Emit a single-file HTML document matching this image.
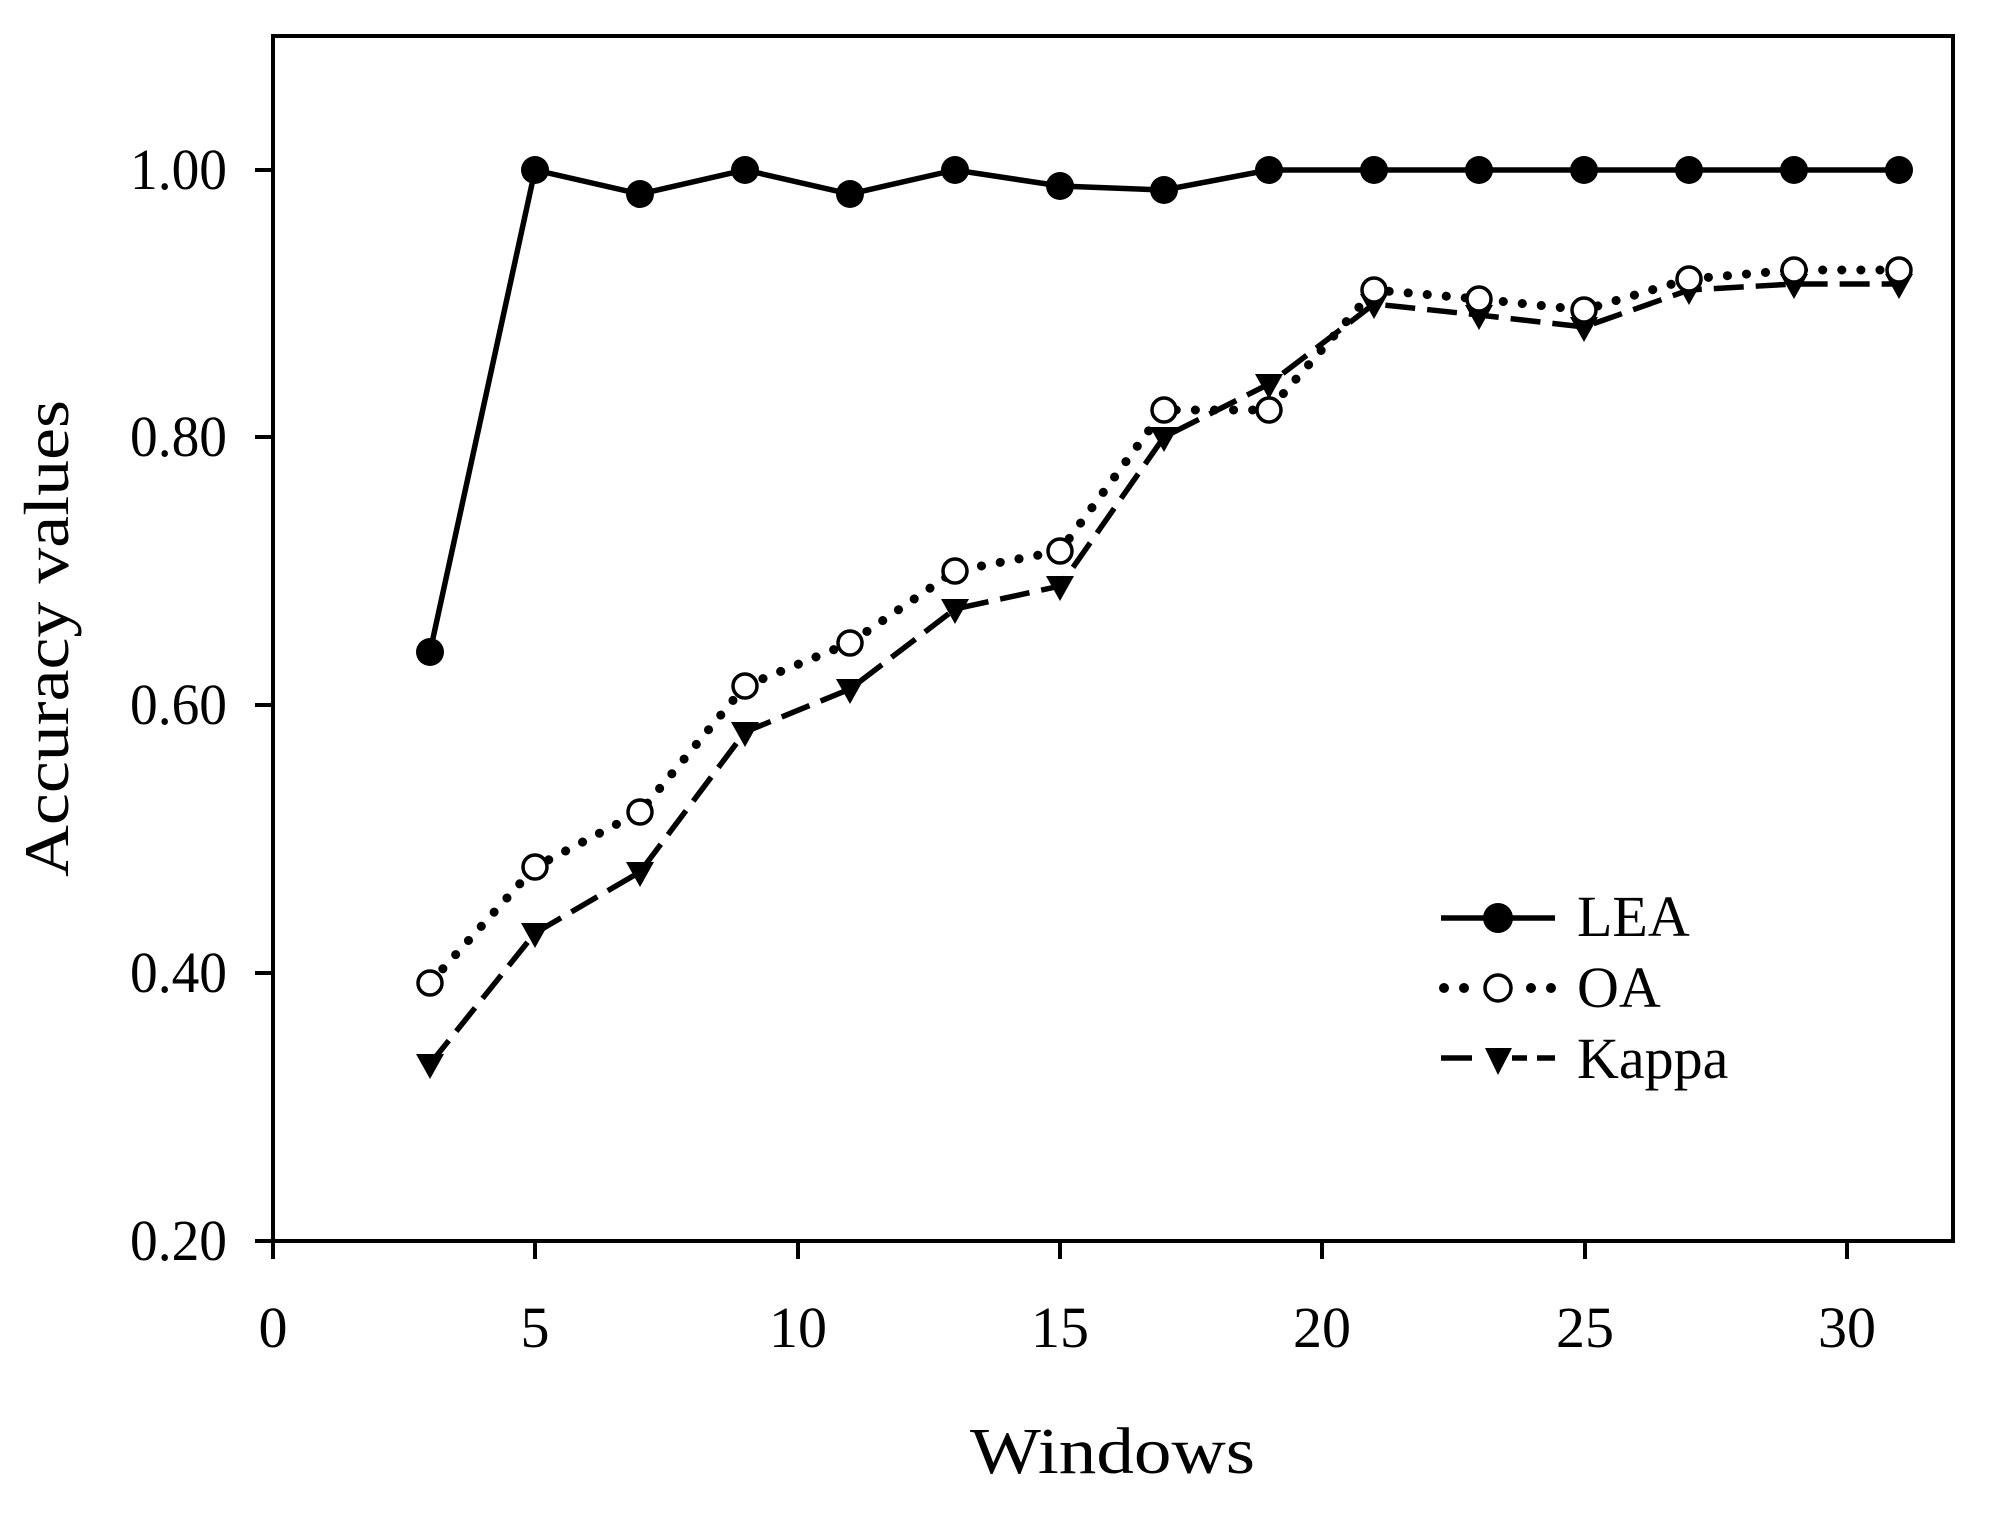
<!DOCTYPE html>
<html><head><style>html,body{margin:0;padding:0;background:#fff}</style></head>
<body>
<svg width="1998" height="1510" viewBox="0 0 1998 1510" xmlns="http://www.w3.org/2000/svg" font-family="'Liberation Serif', serif">
<rect width="1998" height="1510" fill="#fff"/>
<g stroke="#000" stroke-width="4" fill="none">
<path d="M273,36 H1953 V1241 H273 Z"/>
<path d="M255,1241 H273 M255,973 H273 M255,705 H273 M255,437 H273 M255,170 H273"/>
<path d="M273,1241 V1259 M535,1241 V1259 M798,1241 V1259 M1060,1241 V1259 M1322,1241 V1259 M1585,1241 V1259 M1847,1241 V1259"/>
</g>
<g font-size="58" text-anchor="end" fill="#000">
<text x="227" y="189" textLength="97" lengthAdjust="spacingAndGlyphs">1.00</text>
<text x="227" y="456" textLength="97" lengthAdjust="spacingAndGlyphs">0.80</text>
<text x="227" y="724" textLength="97" lengthAdjust="spacingAndGlyphs">0.60</text>
<text x="227" y="992" textLength="97" lengthAdjust="spacingAndGlyphs">0.40</text>
<text x="227" y="1260" textLength="97" lengthAdjust="spacingAndGlyphs">0.20</text>
</g>
<g font-size="58" text-anchor="middle" fill="#000">
<text x="273" y="1347">0</text><text x="535" y="1347">5</text><text x="798" y="1347">10</text>
<text x="1060" y="1347">15</text><text x="1322" y="1347">20</text><text x="1585" y="1347">25</text><text x="1847" y="1347">30</text>
</g>
<text x="970" y="1473" font-size="66" textLength="285" lengthAdjust="spacingAndGlyphs">Windows</text>
<text transform="translate(68,877) rotate(-90)" font-size="64" textLength="477" lengthAdjust="spacingAndGlyphs">Accuracy values</text>

<!-- LEA -->
<polyline fill="none" stroke="#000" stroke-width="5.5" points="430,652 535,170 640,194 745,170 850,194 955,170 1060,186 1164,190 1269,170 1374,170 1479,170 1584,170 1689,170 1794,170 1899,170"/>
<g fill="#000">
<circle cx="430" cy="652" r="14"/><circle cx="535" cy="170" r="14"/><circle cx="640" cy="194" r="14"/><circle cx="745" cy="170" r="14"/><circle cx="850" cy="194" r="14"/><circle cx="955" cy="170" r="14"/><circle cx="1060" cy="186" r="14"/><circle cx="1164" cy="190" r="14"/><circle cx="1269" cy="170" r="14"/><circle cx="1374" cy="170" r="14"/><circle cx="1479" cy="170" r="14"/><circle cx="1584" cy="170" r="14"/><circle cx="1689" cy="170" r="14"/><circle cx="1794" cy="170" r="14"/><circle cx="1899" cy="170" r="14"/>
</g>

<!-- Kappa -->
<polyline fill="none" stroke="#000" stroke-width="5.5" stroke-dasharray="30,12" points="430,1064 535,933 640,872 745,732 850,689 955,609 1060,586 1164,437 1269,384 1374,304 1479,315 1584,327 1689,290 1794,284 1899,284"/>
<g fill="#000">
<path d="M-14,-10 H14 L0,15 Z" transform="translate(430,1064)"/>
<path d="M-14,-10 H14 L0,15 Z" transform="translate(535,933)"/>
<path d="M-14,-10 H14 L0,15 Z" transform="translate(640,872)"/>
<path d="M-14,-10 H14 L0,15 Z" transform="translate(745,732)"/>
<path d="M-14,-10 H14 L0,15 Z" transform="translate(850,689)"/>
<path d="M-14,-10 H14 L0,15 Z" transform="translate(955,609)"/>
<path d="M-14,-10 H14 L0,15 Z" transform="translate(1060,586)"/>
<path d="M-14,-10 H14 L0,15 Z" transform="translate(1164,437)"/>
<path d="M-14,-10 H14 L0,15 Z" transform="translate(1269,384)"/>
<path d="M-14,-10 H14 L0,15 Z" transform="translate(1374,304)"/>
<path d="M-14,-10 H14 L0,15 Z" transform="translate(1479,315)"/>
<path d="M-14,-10 H14 L0,15 Z" transform="translate(1584,327)"/>
<path d="M-14,-10 H14 L0,15 Z" transform="translate(1689,290)"/>
<path d="M-14,-10 H14 L0,15 Z" transform="translate(1794,284)"/>
<path d="M-14,-10 H14 L0,15 Z" transform="translate(1899,284)"/>
</g>

<!-- OA -->
<polyline fill="none" stroke="#000" stroke-width="9" stroke-linecap="round" stroke-dasharray="0.1,19" points="430,983 535,867 640,812 745,686 850,643 955,571 1060,551 1164,410 1269,410 1374,290 1479,299 1584,310 1689,279 1794,270 1899,270"/>
<g fill="#fff" stroke="#000" stroke-width="3.5">
<circle cx="430" cy="983" r="12"/><circle cx="535" cy="867" r="12"/><circle cx="640" cy="812" r="12"/><circle cx="745" cy="686" r="12"/><circle cx="850" cy="643" r="12"/><circle cx="955" cy="571" r="12"/><circle cx="1060" cy="551" r="12"/><circle cx="1164" cy="410" r="12"/><circle cx="1269" cy="410" r="12"/><circle cx="1374" cy="290" r="12"/><circle cx="1479" cy="299" r="12"/><circle cx="1584" cy="310" r="12"/><circle cx="1689" cy="279" r="12"/><circle cx="1794" cy="270" r="12"/><circle cx="1899" cy="270" r="12"/>
</g>

<!-- Legend -->
<line x1="1441" y1="918" x2="1555" y2="918" stroke="#000" stroke-width="5.5"/>
<circle cx="1498" cy="918" r="15" fill="#000"/>
<g fill="#000"><circle cx="1444" cy="988" r="5"/><circle cx="1464" cy="988" r="5"/><circle cx="1531" cy="988" r="5"/><circle cx="1551" cy="988" r="5"/></g>
<circle cx="1498" cy="988" r="13" fill="#fff" stroke="#000" stroke-width="3.5"/>
<path d="M1441,1058 H1472 M1512,1058 H1527 M1537,1058 H1555" stroke="#000" stroke-width="5.5"/>
<path d="M1485,1048 H1512 L1498,1075 Z" fill="#000"/>
<g font-size="58" fill="#000">
<text x="1577" y="936">LEA</text>
<text x="1577" y="1007">OA</text>
<text x="1577" y="1078">Kappa</text>
</g>
</svg>
</body></html>
